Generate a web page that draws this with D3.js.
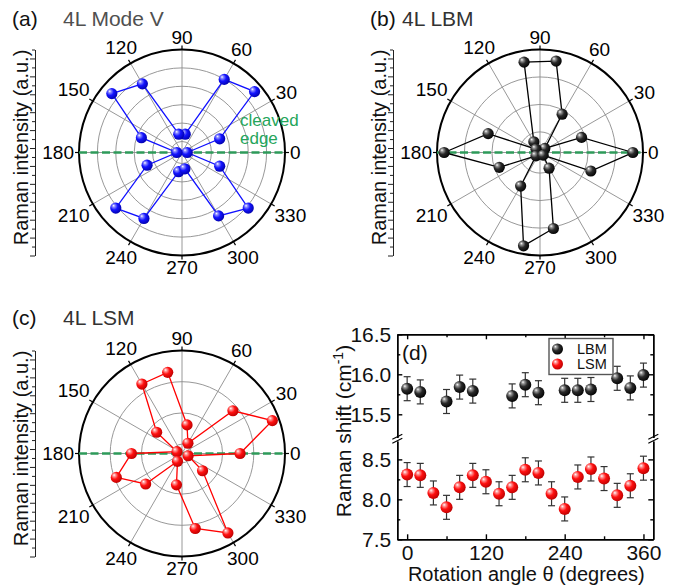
<!DOCTYPE html>
<html>
<head>
<meta charset="utf-8">
<script src="https://d3js.org/d3.v7.min.js"></script>
<style>
  body { margin: 0; background: #fff; }
  svg { font-family: "Liberation Sans", Arial, sans-serif; }
</style>
</head>
<body>
<div id="chart"></div>
<script>
// polar panels: rotation angle (deg) and Raman intensity (a.u.)
const polarAngles = [0, 20, 40, 60, 80, 100, 120, 140, 160, 180, 200, 220, 240, 260, 280, 300, 320, 340];
const modeV = [0.28, 2.18, 5.15, 4.59, 1.01, 1.01, 4.31, 4.98, 2.35, 0.28, 2.02, 4.70, 4.14, 1.06, 0.90, 3.98, 4.70, 2.18];
const lbmIntensity = [3.38, 1.61, 0.23, 1.61, 3.38, 3.34, 0.45, 0.19, 2.01, 3.49, 1.58, 0.19, 1.41, 3.45, 2.81, 0.66, 0.15, 1.97];
const lsmIntensity = [1.86, 3.08, 2.13, 0.38, 0.93, 2.64, 2.57, 1.06, 0.17, 1.62, 2.24, 1.52, 0.29, 1.02, 2.44, 2.94, 0.86, 0.21];
const gridAngles = [0, 30, 60, 90, 120, 150, 180, 210, 240, 270, 300, 330];

// panel (d): Raman shift vs rotation angle
const anglesLBM = [0, 20, 60, 80, 100, 160, 180, 200, 240, 260, 280, 320, 340, 360];
const shiftLBM = [15.82, 15.78, 15.66, 15.84, 15.79, 15.73, 15.87, 15.77, 15.80, 15.80, 15.81, 15.95, 15.83, 15.99];
const anglesLSM = [0, 20, 40, 60, 80, 100, 120, 140, 160, 180, 200, 220, 240, 260, 280, 300, 320, 340, 360];
const shiftLSM = [8.31, 8.30, 8.08, 7.90, 8.15, 8.30, 8.22, 8.07, 8.15, 8.37, 8.33, 8.07, 7.88, 8.28, 8.38, 8.26, 8.05, 8.17, 8.39];
const shiftErr = 0.15;
const xTicks = [0, 120, 240, 360];
const xMinor = [60, 180, 300];
const yTicksUpper = [15.5, 16.0, 16.5];
const yMinorUpper = [15.75, 16.25];
const yTicksLower = [7.5, 8.0, 8.5];
const yMinorLower = [7.75, 8.25];

const width = 678, height = 586;
const svg = d3.select("#chart").append("svg").attr("width", width).attr("height", height);
const defs = svg.append("defs");

// glossy ball gradients
function ball(id, stops) {
  const gr = defs.append("radialGradient").attr("id", id)
    .attr("cx", "0.4").attr("cy", "0.4").attr("r", "0.65").attr("fx", "0.3").attr("fy", "0.28");
  stops.forEach(s => gr.append("stop").attr("offset", s[0]).attr("stop-color", s[1]));
}
ball("ballBlue", [[0, "#ffffff"], [0.18, "#8f8fff"], [0.5, "#1414ff"], [1, "#0000a8"]]);
ball("ballBlack", [[0, "#ffffff"], [0.18, "#9a9a9a"], [0.5, "#2a2a2a"], [1, "#000000"]]);
ball("ballRed", [[0, "#ffffff"], [0.18, "#ff9a9a"], [0.5, "#ff1010"], [1, "#b80000"]]);

const rad = d => d * Math.PI / 180;
const R = 103;
const green = "#2e9a5a";

function drawPolar(o) {
  const g = svg.append("g").attr("transform", `translate(${o.cx},${o.cy})`);
  const r = d3.scaleLinear().domain([0, o.rMax]).range([0, R]);

  // grid
  g.selectAll(".ring").data(o.rings).enter().append("circle")
    .attr("r", d => r(d)).attr("fill", "none").attr("stroke", "#8c8c8c").attr("stroke-width", 0.9);
  g.selectAll(".spoke").data(gridAngles).enter().append("line")
    .attr("x2", d => R * Math.cos(rad(d))).attr("y2", d => -R * Math.sin(rad(d)))
    .attr("stroke", "#8c8c8c").attr("stroke-width", 0.9);
  g.append("circle").attr("r", R).attr("fill", "none").attr("stroke", "#000").attr("stroke-width", 2);
  g.selectAll(".otick").data(gridAngles).enter().append("line")
    .attr("x1", d => R * Math.cos(rad(d))).attr("y1", d => -R * Math.sin(rad(d)))
    .attr("x2", d => (R + 4) * Math.cos(rad(d))).attr("y2", d => -(R + 4) * Math.sin(rad(d)))
    .attr("stroke", "#000").attr("stroke-width", 1.2);

  // cleaved edge direction
  g.append("line").attr("x1", -R).attr("x2", R).attr("stroke", green)
    .attr("stroke-width", 2.6).attr("stroke-dasharray", "8,3.5");

  const pts = polarAngles.map((a, i) => [a, o.values[i]]);
  const line = d3.lineRadial()
    .angle(d => Math.PI / 2 - rad(d[0]))
    .radius(d => r(d[1]))
    .curve(d3.curveLinearClosed);
  g.append("path").datum(pts).attr("d", line).attr("fill", "none")
    .attr("stroke", o.color).attr("stroke-width", 1.3);
  g.selectAll(".pt").data(pts).enter().append("circle")
    .attr("cx", d => r(d[1]) * Math.cos(rad(d[0])))
    .attr("cy", d => -r(d[1]) * Math.sin(rad(d[0])))
    .attr("r", 5.6).attr("fill", `url(#${o.grad})`);

  // angle labels
  g.selectAll(".alab").data(gridAngles).enter().append("text")
    .attr("font-size", 19).attr("text-anchor", "middle").attr("dominant-baseline", "central")
    .text(d => d)
    .each(function (d) {
      const w = this.getComputedTextLength();
      const dist = R + 5 + Math.abs(Math.cos(rad(d))) * w / 2 + Math.abs(Math.sin(rad(d))) * 6.8;
      d3.select(this).attr("x", dist * Math.cos(rad(d))).attr("y", -dist * Math.sin(rad(d)));
    });

  // intensity axis on the left
  const yI = d3.scaleLinear().domain([0, 23]).range([o.cy + R, o.cy - R]);
  const ax = svg.append("g").attr("transform", `translate(${o.axisX},0)`);
  ax.call(d3.axisLeft(yI).tickValues(d3.range(0, 24, 2)).tickSize(5).tickSizeOuter(0).tickFormat(""));
  ax.append("g").call(d3.axisLeft(yI).tickValues(d3.range(1, 24, 2)).tickSize(3).tickFormat(""))
    .select(".domain").remove();
  ax.selectAll("line,path").attr("stroke", "#222").attr("stroke-width", 1);
  svg.append("text").attr("transform", `translate(${o.axisX - 7},${o.cy - 5}) rotate(-90)`)
    .attr("text-anchor", "middle").attr("font-size", 20).attr("fill", "#111")
    .text("Raman intensity (a.u.)");

  // panel titles
  svg.append("text").attr("x", o.tagX).attr("y", o.titleY).attr("font-size", 21).attr("fill", "#111").text(o.tag);
  svg.append("text").attr("x", o.titleX).attr("y", o.titleY).attr("font-size", 21).attr("fill", o.titleColor).text(o.title);
  return g;
}

const gA = drawPolar({ cx: 182, cy: 152.5, rMax: 5.6, rings: [0.6, 1.6, 2.6, 3.6, 4.6], values: modeV,
  color: "#1010ff", grad: "ballBlue", axisX: 35, tag: "(a)", tagX: 12, title: "4L Mode V", titleX: 63, titleY: 26, titleColor: "#505050" });
gA.append("text").attr("x", 58).attr("y", -27).attr("font-size", 17).attr("fill", "#25a55a").text("cleaved");
gA.append("text").attr("x", 58).attr("y", -9).attr("font-size", 17).attr("fill", "#25a55a").text("edge");

drawPolar({ cx: 540, cy: 152.5, rMax: 3.75, rings: [0.75, 1.75, 2.75], values: lbmIntensity,
  color: "#000", grad: "ballBlack", axisX: 393, tag: "(b)", tagX: 370, title: "4L LBM", titleX: 402, titleY: 26, titleColor: "#333" });

drawPolar({ cx: 182, cy: 453.5, rMax: 3.3, rings: [0.3, 1.3, 2.3], values: lsmIntensity,
  color: "#ff0000", grad: "ballRed", axisX: 35, tag: "(c)", tagX: 12, title: "4L LSM", titleX: 63, titleY: 325, titleColor: "#333" });

// ---- panel (d) ----
const plotLeft = 397.3, plotRight = 653.3, plotTop = 334.3, plotBottom = 539.3;
const x = d3.scaleLinear().domain([-15, 375]).range([plotLeft, plotRight]);
const yUp = d3.scaleLinear().domain([15.21, 16.5]).range([437.5, plotTop]);
const yLo = d3.scaleLinear().domain([7.5, 8.73]).range([plotBottom, 441]);

const d = svg.append("g");
function axis(gen, pos, vals, size, fmt) {
  const a = d.append("g").attr("transform", pos)
    .call(gen.tickValues(vals).tickSizeInner(-size).tickSizeOuter(0).tickPadding(6)
      .tickFormat(fmt || ""));
  a.selectAll("path,line").attr("stroke", "#000").attr("stroke-width", 1.4);
  a.selectAll("text").attr("font-size", 21).attr("fill", "#111").attr("font-family", null);
  return a;
}
axis(d3.axisBottom(x), `translate(0,${plotBottom})`, xTicks, 5, d3.format("d"));
axis(d3.axisBottom(x), `translate(0,${plotBottom})`, xMinor, 3, null);
axis(d3.axisTop(x), `translate(0,${plotTop})`, xTicks, 5, null);
axis(d3.axisTop(x), `translate(0,${plotTop})`, xMinor, 3, null);
[[yUp, yTicksUpper, yMinorUpper], [yLo, yTicksLower, yMinorLower]].forEach(([s, maj, mnr]) => {
  axis(d3.axisLeft(s), `translate(${plotLeft},0)`, maj, 5, d3.format(".1f"));
  axis(d3.axisLeft(s), `translate(${plotLeft},0)`, mnr, 3, null);
  axis(d3.axisRight(s), `translate(${plotRight},0)`, maj, 5, null);
  axis(d3.axisRight(s), `translate(${plotRight},0)`, mnr, 3, null);
});

// axis break marks
[plotLeft, plotRight].forEach(bx => {
  [437.2, 441.2].forEach(by => {
    d.append("line").attr("x1", bx - 5).attr("y1", by + 2).attr("x2", bx + 5).attr("y2", by - 3)
      .attr("stroke", "#000").attr("stroke-width", 1.2);
  });
});

function series(angles, vals, scale, grad) {
  const gs = d.append("g");
  const pts = angles.map((a, i) => ({ a: a, v: vals[i] }));
  pts.forEach(p => {
    const y0 = scale(p.v - shiftErr), y1 = scale(p.v + shiftErr), px = x(p.a);
    gs.append("line").attr("x1", px).attr("x2", px).attr("y1", y0).attr("y2", y1).attr("stroke", "#333").attr("stroke-width", 1.2);
    [y0, y1].forEach(yy => gs.append("line").attr("x1", px - 3.5).attr("x2", px + 3.5).attr("y1", yy).attr("y2", yy)
      .attr("stroke", "#333").attr("stroke-width", 1.2));
  });
  gs.selectAll("circle").data(pts).enter().append("circle")
    .attr("cx", p => x(p.a)).attr("cy", p => scale(p.v)).attr("r", 6).attr("fill", `url(#${grad})`);
}
series(anglesLBM, shiftLBM, yUp, "ballBlack");
series(anglesLSM, shiftLSM, yLo, "ballRed");

d.append("text").attr("x", 402).attr("y", 360).attr("font-size", 21).attr("fill", "#111").text("(d)");

// legend
const lg = d.append("g");
lg.append("rect").attr("x", 549).attr("y", 338.5).attr("width", 64).attr("height", 36)
  .attr("fill", "#fff").attr("stroke", "#555").attr("stroke-width", 1.4);
[["LBM", "ballBlack", 349], ["LSM", "ballRed", 364]].forEach(([t, gId, yy]) => {
  lg.append("circle").attr("cx", 557.5).attr("cy", yy).attr("r", 5.5).attr("fill", `url(#${gId})`);
  lg.append("text").attr("x", 577).attr("y", yy + 5).attr("font-size", 14.5).attr("fill", "#111").text(t);
});

// axis titles
d.append("text").attr("x", (plotLeft + plotRight) / 2 + 1).attr("y", 581).attr("text-anchor", "middle")
  .attr("font-size", 20).attr("fill", "#111").text("Rotation angle \u03b8 (degrees)");
const yt = d.append("text").attr("transform", "translate(351,431) rotate(-90)")
  .attr("text-anchor", "middle").attr("font-size", 21).attr("fill", "#111");
yt.append("tspan").text("Raman shift (cm");
yt.append("tspan").attr("font-size", 14).attr("dy", -8).text("-1");
yt.append("tspan").attr("dy", 8).text(")");
</script>
</body>
</html>
